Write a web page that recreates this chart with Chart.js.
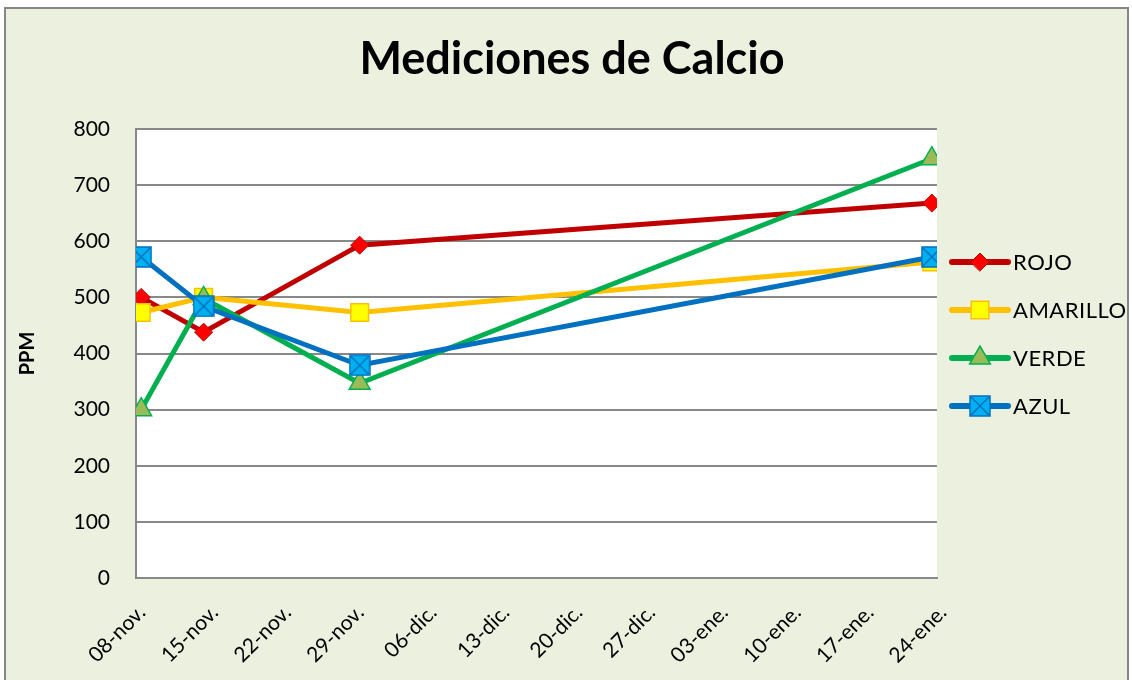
<!DOCTYPE html>
<html lang="es">
<head>
<meta charset="utf-8">
<title>Mediciones de Calcio</title>
<script src="https://cdn.jsdelivr.net/npm/chart.js@4.4.1/dist/chart.umd.min.js"></script>
<style>
  html, body { margin: 0; padding: 0; background: #fff; }
</style>
</head>
<body>
<canvas id="graficaCalcio" width="1132" height="680"></canvas>
<script>
// fechas de medición y días contados desde el 08-nov.
const fechas = ['08-nov.', '14-nov.', '29-nov.', '24-ene.'];
const dias = [0, 6, 21, 76];
// etiquetas del eje de fechas (cada 7 días)
const etiquetasEje = ['08-nov.', '15-nov.', '22-nov.', '29-nov.', '06-dic.', '13-dic.',
                      '20-dic.', '27-dic.', '03-ene.', '10-ene.', '17-ene.', '24-ene.'];
// valores en PPM
const rojo = [500, 438, 593, 668];
const amarillo = [473, 500, 473, 563];
const verde = [300, 498, 347, 747];
const azul = [572, 484, 379, 572];

const fuente = 'Lato, Carlito, Calibri, sans-serif';

// cada fecha ocupa una "ranura" de un día, el punto va al centro
function puntos(valores) {
    return valores.map((v, i) => ({ x: dias[i] + 0.5, y: v }));
}

// cuadro azul con una X (marcador de la serie AZUL)
function marcadorAzul() {
    const c = document.createElement('canvas');
    c.width = 22; c.height = 22;
    const g = c.getContext('2d');
    g.fillStyle = '#00B0F0';
    g.fillRect(1, 1, 20, 20);
    g.strokeStyle = '#0070C0';
    g.lineWidth = 1.5;
    g.strokeRect(1, 1, 20, 20);
    g.beginPath();
    g.moveTo(2, 2); g.lineTo(20, 20);
    g.moveTo(20, 2); g.lineTo(2, 20);
    g.stroke();
    return c;
}

// fondo verde claro con borde gris y área de trazado blanca
const fondoGrafica = {
    id: 'fondoGrafica',
    beforeDraw(chart) {
        const ctx = chart.ctx;
        const a = chart.chartArea;
        ctx.save();
        ctx.fillStyle = '#ffffff';
        ctx.fillRect(0, 0, chart.width, chart.height);
        ctx.fillStyle = '#EBF1DE';
        ctx.fillRect(5, 8, chart.width - 9, chart.height);
        ctx.strokeStyle = '#868686';
        ctx.lineWidth = 2;
        ctx.strokeRect(5, 8, chart.width - 9, chart.height + 4);
        ctx.fillStyle = '#ffffff';
        ctx.fillRect(a.left, a.top, a.right - a.left, a.bottom - a.top);
        ctx.restore();
    }
};

// leyenda a la derecha con línea + marcador
const leyendaLateral = {
    id: 'leyendaLateral',
    afterDraw(chart) {
        const ctx = chart.ctx;
        const a = chart.chartArea;
        const x0 = a.right + 15;
        chart.data.datasets.forEach((ds, i) => {
            const y = a.top + 133 + i * 48;
            ctx.save();
            ctx.strokeStyle = ds.borderColor;
            ctx.lineWidth = 6;
            ctx.lineCap = 'round';
            ctx.beginPath();
            ctx.moveTo(x0, y);
            ctx.lineTo(x0 + 56, y);
            ctx.stroke();
            ctx.fillStyle = ds.pointBackgroundColor;
            ctx.strokeStyle = ds.pointBorderColor;
            ctx.lineWidth = ds.pointBorderWidth;
            Chart.helpers.drawPoint(ctx, {
                pointStyle: ds.pointStyle,
                radius: ds.pointRadius,
                borderWidth: ds.pointBorderWidth,
                rotation: 0
            }, x0 + 28, y);
            ctx.fillStyle = '#000';
            ctx.font = '22px ' + fuente;
            ctx.letterSpacing = '0.5px';
            ctx.textBaseline = 'middle';
            ctx.textAlign = 'left';
            ctx.fillText(ds.label, x0 + 61, y + 1);
            ctx.restore();
        });
    }
};

const ctx = document.getElementById('graficaCalcio').getContext('2d');
new Chart(ctx, {
    type: 'line',
    data: {
        datasets: [
            {
                label: 'ROJO',
                data: puntos(rojo),
                borderColor: '#C00000',
                borderWidth: 5,
                pointStyle: 'rectRot',
                pointRadius: 9,
                pointBackgroundColor: '#FF0000',
                pointBorderColor: '#C00000',
                pointBorderWidth: 1,
                order: 3
            },
            {
                label: 'AMARILLO',
                data: puntos(amarillo),
                borderColor: '#FFC000',
                borderWidth: 5,
                pointStyle: 'rect',
                pointRadius: 12.5,
                pointBackgroundColor: '#FFFF00',
                pointBorderColor: '#FFC000',
                pointBorderWidth: 1.5,
                order: 2
            },
            {
                label: 'VERDE',
                data: puntos(verde),
                borderColor: '#00B050',
                borderWidth: 5,
                pointStyle: 'triangle',
                pointRadius: 12,
                pointBackgroundColor: '#9BBB59',
                pointBorderColor: '#00B050',
                pointBorderWidth: 1.5,
                order: 1
            },
            {
                label: 'AZUL',
                data: puntos(azul),
                borderColor: '#0070C0',
                borderWidth: 5,
                pointStyle: marcadorAzul(),
                pointRadius: 11,
                pointBackgroundColor: '#00B0F0',
                pointBorderColor: '#0070C0',
                pointBorderWidth: 1.5,
                order: 0
            }
        ]
    },
    options: {
        responsive: false,
        animation: false,
        layout: { padding: { left: 12, right: 0, top: 8, bottom: 0 } },
        elements: { line: { tension: 0 } },
        plugins: {
            legend: { display: false },
            tooltip: { enabled: false },
            title: {
                display: true,
                text: 'Mediciones de Calcio',
                color: '#000',
                font: { family: fuente, size: 45, weight: 'bold' },
                padding: { top: 24, bottom: 43 }
            }
        },
        scales: {
            x: {
                type: 'linear',
                min: 0,
                max: 77,
                afterBuildTicks: (s) => { s.ticks = etiquetasEje.map((e, i) => ({ value: i * 7 })); },
                afterFit: (s) => { s.height = 102; },
                grid: { display: false, drawTicks: false },
                border: { display: true, color: '#888', width: 2 },
                ticks: {
                    autoSkip: false,
                    minRotation: 45,
                    maxRotation: 45,
                    padding: 22,
                    labelOffset: 6,
                    color: '#000',
                    font: { family: fuente, size: 21 },
                    callback: (v) => etiquetasEje[Math.round(v / 7)]
                }
            },
            y: {
                min: 0,
                max: 800,
                afterFit: (s) => { s.width = 124; },
                grid: { color: '#888', lineWidth: 2, drawTicks: false },
                border: { display: true, color: '#888', width: 2 },
                ticks: {
                    stepSize: 100,
                    padding: 26,
                    color: '#000',
                    font: { family: fuente, size: 21 }
                },
                title: {
                    display: true,
                    text: 'PPM',
                    color: '#000',
                    font: { family: fuente, size: 20, weight: 'bold' },
                    padding: { top: 4, bottom: 0 }
                }
            },
            // espacio reservado para la leyenda a la derecha
            leyenda: {
                type: 'linear',
                position: 'right',
                display: true,
                afterFit: (s) => { s.width = 195; },
                grid: { display: false, drawTicks: false },
                border: { display: false },
                ticks: { display: false }
            }
        }
    },
    plugins: [fondoGrafica, leyendaLateral]
});
</script>
</body>
</html>
